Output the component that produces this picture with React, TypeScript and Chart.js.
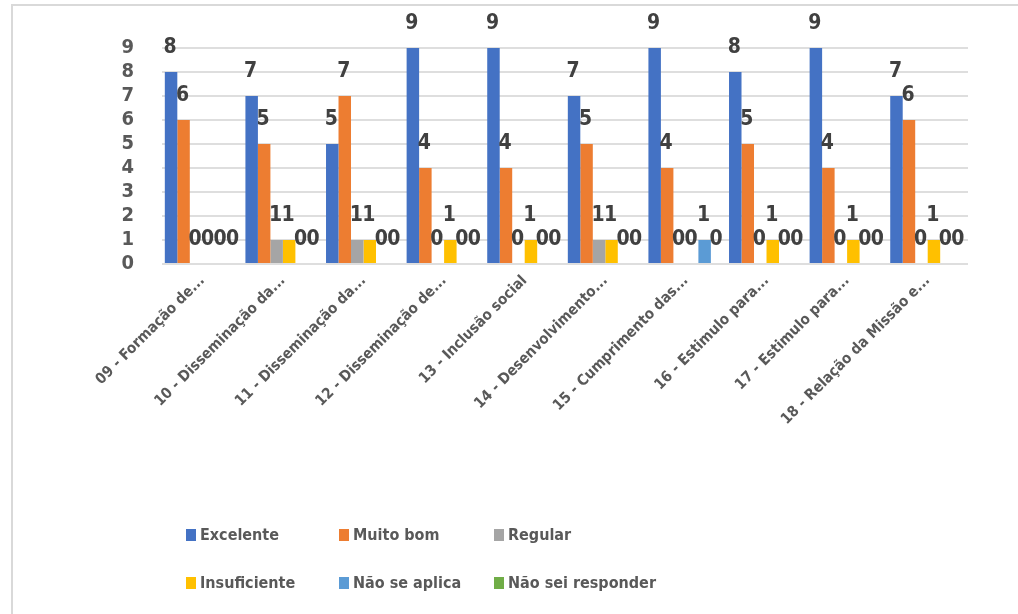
import React, { useEffect, useRef } from "react";
import { Chart, registerables } from "chart.js";

Chart.register(...registerables);

const categories = [
  "09 - Formação de...",
  "10 - Disseminação da...",
  "11 - Disseminação da...",
  "12 - Disseminação de...",
  "13 - Inclusão social",
  "14 - Desenvolvimento...",
  "15 - Cumprimento das...",
  "16 - Estimulo para...",
  "17 - Estimulo para...",
  "18 - Relação da Missão e...",
];

const excelente = [8, 7, 5, 9, 9, 7, 9, 8, 9, 7];
const muitoBom = [6, 5, 7, 4, 4, 5, 4, 5, 4, 6];
const regular = [0, 1, 1, 0, 0, 1, 0, 0, 0, 0];
const insuficiente = [0, 1, 1, 1, 1, 1, 0, 1, 1, 1];
const naoSeAplica = [0, 0, 0, 0, 0, 0, 1, 0, 0, 0];
const naoSeiResponder = [0, 0, 0, 0, 0, 0, 0, 0, 0, 0];

const seriesNames = ["Excelente", "Muito bom", "Regular", "Insuficiente", "Não se aplica", "Não sei responder"];
const seriesColors = ["#4472C4", "#ED7D31", "#A5A5A5", "#FFC000", "#5B9BD5", "#70AD47"];
const seriesValues = [excelente, muitoBom, regular, insuficiente, naoSeAplica, naoSeiResponder];

const FONT = '"Liberation Sans Narrow", "DejaVu Sans Condensed", "Open Sans", sans-serif';

const dataLabelPlugin = {
  id: "dataLabels",
  afterDatasetsDraw(chart: any) {
    const ctx = chart.ctx;
    ctx.save();
    ctx.font = `bold 21px ${FONT}`;
    ctx.fillStyle = "#404040";
    ctx.textAlign = "center";
    ctx.textBaseline = "alphabetic";
    chart.data.datasets.forEach((ds: any, i: number) => {
      const meta = chart.getDatasetMeta(i);
      meta.data.forEach((el: any, j: number) => {
        ctx.fillText(String(ds.data[j]), el.x - 1, el.y - 19);
      });
    });
    ctx.restore();
  },
};

const legendPlugin = {
  id: "customLegend",
  afterDraw(chart: any) {
    const ctx = chart.ctx;
    const cols = [186, 339, 494];
    const rows = [535, 583];
    ctx.save();
    ctx.font = `bold 16px ${FONT}`;
    ctx.textBaseline = "middle";
    ctx.textAlign = "left";
    seriesNames.forEach((name, i) => {
      const x = cols[i % 3];
      const y = rows[Math.floor(i / 3)];
      ctx.fillStyle = seriesColors[i];
      ctx.fillRect(x, y - 6, 10, 12);
      ctx.fillStyle = "#595959";
      ctx.fillText(name, x + 14, y + 1);
    });
    ctx.restore();
  },
};

export default function App() {
  const ref = useRef<HTMLCanvasElement>(null);

  useEffect(() => {
    if (!ref.current) return;
    const chart = new Chart(ref.current, {
      type: "bar",
      data: {
        labels: categories,
        datasets: seriesNames.map((name, i) => ({
          label: name,
          data: seriesValues[i],
          backgroundColor: seriesColors[i],
          borderWidth: 0,
          categoryPercentage: 0.93,
          barPercentage: 1,
        })),
      },
      options: {
        responsive: false,
        animation: false,
        layout: { padding: { left: 0, top: 48, right: 50, bottom: 0 } },
        plugins: {
          legend: { display: false },
          tooltip: { enabled: false },
        },
        scales: {
          x: {
            grid: { display: false, drawTicks: false },
            border: { display: false },
            ticks: {
              maxRotation: 45,
              minRotation: 45,
              autoSkip: false,
              padding: 8,
              color: "#595959",
              font: { family: FONT, size: 15, weight: "bold" },
            },
            afterFit(scale: any) {
              scale.height = 350;
            },
          },
          y: {
            min: 0,
            max: 9,
            grid: { color: "#dedede", lineWidth: 2, drawTicks: false },
            border: { display: false },
            ticks: {
              stepSize: 1,
              autoSkip: false,
              padding: 28,
              color: "#595959",
              font: { family: FONT, size: 20, weight: "bold" },
            },
            afterFit(scale: any) {
              scale.width = 162;
            },
          },
        },
      },
      plugins: [dataLabelPlugin, legendPlugin],
    });
    return () => chart.destroy();
  }, []);

  return (
    <div style={{ position: "absolute", left: 0, top: 0, width: 1018, height: 614, background: "#fff" }}>
      <div
        style={{
          position: "absolute",
          left: 11,
          top: 4,
          width: 1007,
          height: 610,
          borderLeft: "2px solid #d9d9d9",
          borderTop: "2px solid #d9d9d9",
          boxSizing: "border-box",
        }}
      />
      <canvas ref={ref} width={1018} height={614} style={{ position: "absolute", left: 0, top: 0 }} />
    </div>
  );
}
